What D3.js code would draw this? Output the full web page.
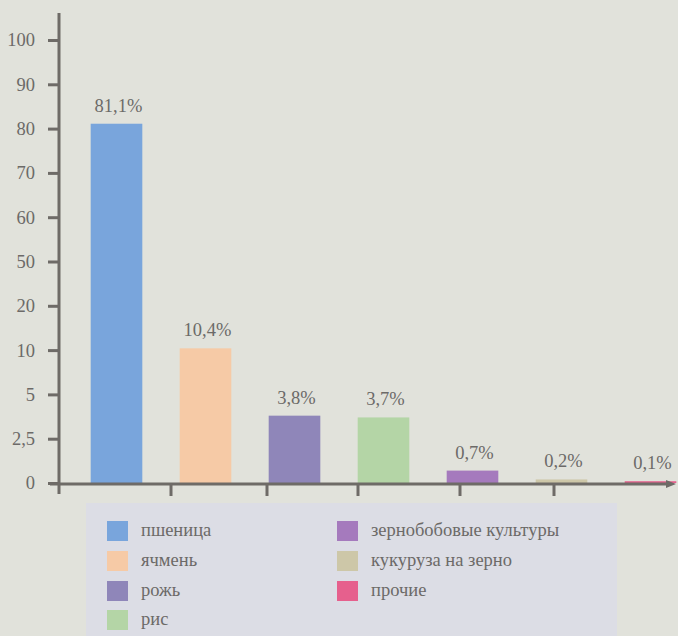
<!DOCTYPE html>
<html><head><meta charset="utf-8">
<script src="https://cdn.jsdelivr.net/npm/d3@7"></script>
<style>
html,body{margin:0;padding:0;background:#e1e2db;}
svg{display:block;}
svg text{font-family:"Liberation Serif","Times New Roman",serif;}
</style></head>
<body>
<svg id="c" width="678" height="636"></svg>
<script>
const categories = ["пшеница","ячмень","рожь","рис","зернобобовые культуры","кукуруза на зерно","прочие"];
const values = [81.1, 10.4, 3.8, 3.7, 0.7, 0.2, 0.1];
const valueLabels = ["81,1%","10,4%","3,8%","3,7%","0,7%","0,2%","0,1%"];
const colors = ["#79a5dc","#f6caa6","#8f86b9","#b4d5a6","#a57abd","#cdc7a8","#e6608d"];
const yTicks = [0, 2.5, 5, 10, 20, 50, 60, 70, 80, 90, 100];
const yTickLabels = ["0","2,5","5","10","20","50","60","70","80","90","100"];

const svg = d3.select("#c");
const W = 678, H = 636;
const axisColor = "#6e6b67";
const textColor = "#6c6a68";

svg.append("rect").attr("width",W).attr("height",H).attr("fill","#e1e2db");

// legend background
svg.append("rect").attr("x",86).attr("y",503).attr("width",531).attr("height",133).attr("fill","#dcdde5");

const y0 = 483, yTop = 40;
const step = (y0 - yTop) / (yTicks.length - 1);
const y = d3.scaleLinear().domain(yTicks).range(yTicks.map((d,i)=>y0 - i*step));

const x = d3.scaleBand().domain(categories).range([72, 695]).paddingInner(0.42).paddingOuter(0.21);

// bars
svg.append("g").selectAll("rect").data(values).join("rect")
  .attr("x",(d,i)=>x(categories[i]))
  .attr("width",x.bandwidth())
  .attr("y",d=>y(d))
  .attr("height",d=>y0 - y(d))
  .attr("fill",(d,i)=>colors[i]);

// value labels
svg.append("g").selectAll("text").data(values).join("text")
  .attr("x",(d,i)=>x(categories[i]) + x.bandwidth()/2 + 2)
  .attr("y",d=>y(d) - 12)
  .attr("text-anchor","middle")
  .style("font-size","18.5px").attr("fill",textColor)
  .text((d,i)=>valueLabels[i]);

// y axis
const yAxis = d3.axisLeft(y).tickValues(yTicks).tickFormat((d,i)=>yTickLabels[i]).tickSize(11).tickPadding(13);
const gy = svg.append("g").attr("transform","translate(59,0)").call(yAxis);
gy.attr("font-family",null).attr("font-size",null);
gy.select(".domain").remove();
gy.selectAll(".tick line").attr("stroke",axisColor).attr("stroke-width",3);
gy.selectAll(".tick text").style("font-size","18.5px").attr("fill",textColor);
svg.append("line").attr("x1",59).attr("x2",59).attr("y1",13).attr("y2",494)
  .attr("stroke",axisColor).attr("stroke-width",3);

// x axis
svg.append("line").attr("x1",50).attr("x2",668).attr("y1",y0+1).attr("y2",y0+1)
  .attr("stroke",axisColor).attr("stroke-width",3);
svg.append("path").attr("d",`M676,${y0+1} L666,${y0-3} L666,${y0+5} Z`).attr("fill",axisColor);
const tickXs = categories.slice(0,5).map(c => x(c) + x.bandwidth() + x.step()*x.paddingInner()/2);
const extra = [10,17,19,32,37];
svg.append("g").selectAll("line").data(tickXs).join("line")
  .attr("x1",(d,i)=>d+extra[i]).attr("x2",(d,i)=>d+extra[i])
  .attr("y1",y0).attr("y2",y0+13)
  .attr("stroke",axisColor).attr("stroke-width",3);

// legend
const colA = categories.slice(0,4).map((c,i)=>({c, i, col:0, row:i}));
const colB = categories.slice(4).map((c,j)=>({c, i:j+4, col:1, row:j}));
const items = colA.concat(colB);
const lx = [107, 337], rowY = [531, 561, 591, 620];
const lg = svg.append("g");
lg.selectAll("rect").data(items).join("rect")
  .attr("x",d=>lx[d.col]).attr("y",d=>rowY[d.row]-10)
  .attr("width",21).attr("height",20)
  .attr("fill",d=>colors[d.i]);
lg.selectAll("text").data(items).join("text")
  .attr("x",d=>lx[d.col]+34).attr("y",d=>rowY[d.row]+5)
  .style("font-size","18.5px").attr("fill",textColor)
  .text(d=>d.c);
</script>
</body></html>
